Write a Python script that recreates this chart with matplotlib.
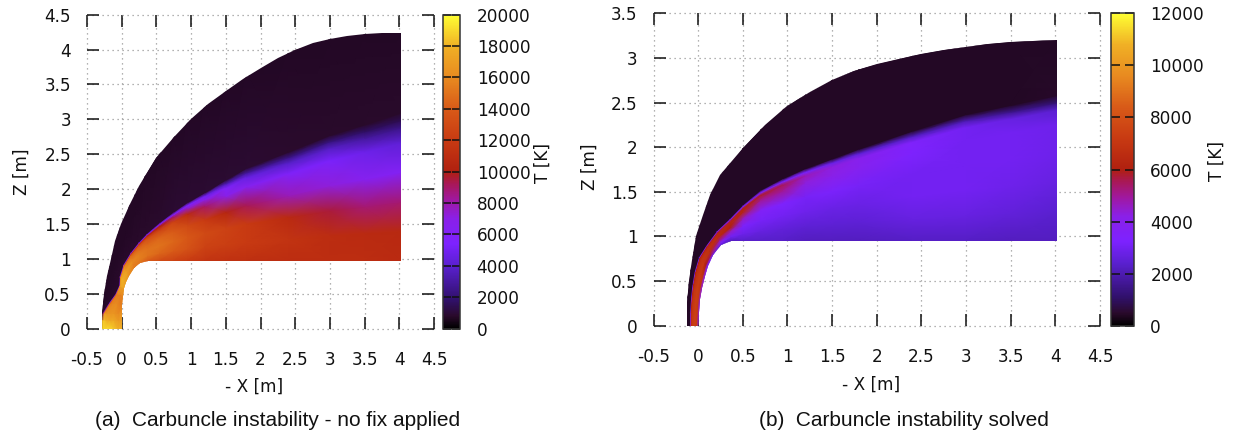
import numpy as np
import matplotlib
matplotlib.use("Agg")
import matplotlib.pyplot as plt
from matplotlib.cm import ScalarMappable
from matplotlib.colors import LinearSegmentedColormap, Normalize
from matplotlib.patches import Polygon

W, H = 1233, 434

# palette
cmap_stops = [0.0, 0.04, 0.09, 0.2, 0.27, 0.35, 0.41, 0.46, 0.5, 0.6, 0.7, 0.8, 0.9, 1.0]
cmap_cols = ['#000000', '#2a0a2c', '#30106a', '#5a20d0', '#7d22ff', '#8a20e8', '#a018a0', '#a81858',
             '#b02010', '#c83a12', '#d85a18', '#e88a20', '#f0b025', '#ffff33']

# fractions between wall and temperature front
row_frac = [0, 0.2, 0.4, 0.6, 0.8, 0.9, 0.95, 1]

# panel a
outline_x_a = [-0.29, -0.29, -0.25, -0.21, -0.16, -0.09, -0.01, 0.12, 0.25, 0.5, 0.75, 1, 1.25, 1.5, 1.75, 2,
               2.25, 2.5, 2.75, 3, 3.25, 3.5, 3.75, 4.02]
outline_z_a = [0, 0.215, 0.5, 0.75, 1, 1.25, 1.5, 1.78, 2.04, 2.44, 2.74, 3.0, 3.22, 3.41, 3.58, 3.74,
               3.875, 4.0, 4.09, 4.158, 4.195, 4.218, 4.232, 4.24]
wall_x_a = [0, 0, 0.005, 0.01, 0.018, 0.04, 0.06, 0.10, 0.18, 0.27, 0.38, 0.55, 0.75, 0.95, 1.2, 1.5, 1.8, 2.4, 3.0, 3.5, 4.02]
wall_z_a = [0, 0.12, 0.22, 0.35, 0.47, 0.58, 0.66, 0.76, 0.87, 0.935, 0.97, 0.97, 0.97, 0.97, 0.97, 0.97, 0.97, 0.97, 0.97, 0.97, 0.97]
outer_x_a = [-0.29, -0.29, -0.29, -0.27, -0.23, -0.19, -0.14, -0.06, 0.06, 0.20, 0.33, 0.55, 0.75, 0.95, 1.2, 1.5, 1.8, 2.4, 3.0, 3.5, 4.02]
outer_z_a = [0, 0.12, 0.22, 0.38, 0.52, 0.68, 0.85, 1.08, 1.38, 1.75, 2.17, 2.53, 2.8, 3.07, 3.27, 3.52, 3.7, 3.97, 4.1, 4.19, 4.23]
front_a = [1.0, 0.98, 0.98, 0.71, 0.47, 0.36, 0.47, 0.5, 0.44, 0.374, 0.33, 0.356, 0.385, 0.40, 0.426, 0.455, 0.487, 0.52, 0.575, 0.606, 0.65]
temp_a = [
    [18000, 18000, 18500, 19000, 19000, 19000, 19000, 19000],
    [17000, 16800, 17500, 17500, 18000, 18500, 18500, 18000],
    [16500, 16000, 16500, 16500, 16500, 16500, 9000, 800],
    [15500, 15500, 16000, 16000, 15500, 14000, 6000, 800],
    [16000, 15500, 15500, 15500, 15500, 14500, 6000, 800],
    [17000, 17500, 17500, 17500, 17000, 16000, 7000, 800],
    [17000, 17500, 18000, 18000, 17000, 15000, 6500, 800],
    [16500, 17000, 17000, 16500, 16000, 14000, 6000, 800],
    [15500, 15500, 16000, 15500, 14500, 12000, 6000, 800],
    [15000, 15500, 15500, 15000, 14000, 11500, 6000, 800],
    [14000, 15000, 15000, 14500, 13500, 11000, 6000, 800],
    [13000, 14500, 15000, 14500, 12500, 10000, 6000, 850],
    [12500, 14000, 14500, 14000, 12500, 9000, 6000, 900],
    [12000, 13500, 13800, 13000, 10800, 7500, 5500, 900],
    [11500, 12500, 13000, 12000, 9000, 6800, 5000, 900],
    [11300, 12300, 12500, 10500, 7000, 5800, 3500, 900],
    [11200, 12000, 12000, 9200, 6500, 4500, 2800, 900],
    [11000, 11500, 10800, 7800, 5800, 3800, 2300, 850],
    [11000, 11000, 9500, 7200, 5300, 3700, 2200, 800],
    [11000, 10800, 8800, 6500, 4800, 2900, 1700, 800],
    [10800, 10700, 8800, 6200, 4200, 2400, 1400, 800],
]
outer_temp_a = 700

# panel b
outline_x_b = [-0.127, -0.12, -0.10, -0.07, -0.02, 0.05, 0.13, 0.25, 0.5, 0.75, 1, 1.25, 1.5, 1.75, 2,
               2.25, 2.5, 2.75, 3, 3.25, 3.5, 3.75, 4.02]
outline_z_b = [0, 0.25, 0.5, 0.735, 1, 1.24, 1.46, 1.69, 1.99, 2.25, 2.46, 2.62, 2.75, 2.85, 2.93,
               2.99, 3.045, 3.09, 3.125, 3.155, 3.18, 3.195, 3.205]
wall_x_b = [0, 0.008, 0.02, 0.04, 0.075, 0.105, 0.165, 0.26, 0.37, 0.5, 0.7, 0.95, 1.2, 1.5, 1.8, 2.4, 3.0, 3.5, 4.02]
wall_z_b = [0, 0.15, 0.3, 0.42, 0.56, 0.67, 0.79, 0.90, 0.95, 0.95, 0.95, 0.95, 0.95, 0.95, 0.95, 0.95, 0.95, 0.95, 0.95]
outer_x_b = [-0.127, -0.125, -0.115, -0.10, -0.08, -0.03, 0.01, 0.12, 0.33, 0.5, 0.7, 0.95, 1.2, 1.5, 1.8, 2.4, 3.0, 3.5, 4.02]
outer_z_b = [0, 0.15, 0.32, 0.46, 0.62, 0.80, 1.01, 1.36, 1.72, 1.98, 2.19, 2.40, 2.6, 2.77, 2.87, 3.02, 3.13, 3.175, 3.205]
front_b = [0.77, 0.78, 0.78, 0.79, 0.77, 0.75, 0.50, 0.36, 0.33, 0.393, 0.46, 0.483, 0.491, 0.505, 0.536, 0.595, 0.65, 0.683, 0.723]
temp_b = [
    [4500, 7200, 7500, 7300, 6800, 6500, 4000, 400],
    [4500, 7200, 7400, 7200, 6800, 6300, 3500, 400],
    [4500, 7200, 7400, 7200, 6800, 6300, 3500, 400],
    [4500, 7000, 7300, 7100, 6700, 6200, 3500, 400],
    [4200, 6800, 7200, 7000, 6600, 6000, 3500, 400],
    [3500, 6000, 7000, 7000, 6600, 5900, 3500, 400],
    [3000, 5500, 6600, 6800, 6500, 5800, 3500, 400],
    [2400, 3500, 5300, 6500, 6500, 5500, 3500, 400],
    [2200, 3000, 4500, 6000, 6300, 5500, 3200, 400],
    [2300, 2900, 3200, 4500, 6300, 6200, 3500, 400],
    [2300, 2700, 3100, 3600, 5000, 5800, 3500, 400],
    [2300, 2600, 3000, 3300, 5000, 5500, 3200, 400],
    [2200, 2500, 2900, 3100, 4300, 4700, 3200, 400],
    [2200, 2500, 2800, 3200, 4200, 4300, 2800, 400],
    [2200, 2500, 2800, 3100, 3900, 4000, 2500, 400],
    [2250, 2700, 3000, 3000, 3300, 3400, 2200, 400],
    [2250, 2700, 3000, 3000, 3000, 3000, 2000, 400],
    [2200, 2600, 2900, 3000, 3000, 2700, 1500, 400],
    [2200, 2400, 2700, 2900, 2900, 2400, 1200, 450],
]
outer_temp_b = 400

x_ticks = [-0.5, 0, 0.5, 1, 1.5, 2, 2.5, 3, 3.5, 4, 4.5]
x_labels = ['-0.5', '0', '0.5', '1', '1.5', '2', '2.5', '3', '3.5', '4', '4.5']
z_ticks_a = [0, 0.5, 1, 1.5, 2, 2.5, 3, 3.5, 4, 4.5]
z_labels_a = ['0', '0.5', '1', '1.5', '2', '2.5', '3', '3.5', '4', '4.5']
z_ticks_b = [0, 0.5, 1, 1.5, 2, 2.5, 3, 3.5]
z_labels_b = ['0', '0.5', '1', '1.5', '2', '2.5', '3', '3.5']
t_ticks_a = [0, 2000, 4000, 6000, 8000, 10000, 12000, 14000, 16000, 18000, 20000]
t_ticks_b = [0, 2000, 4000, 6000, 8000, 10000, 12000]

FS = 12.2
cmap = LinearSegmentedColormap.from_list('carbuncle', list(zip(cmap_stops, cmap_cols)), N=512)


def px_axes(fig, left, top, right, bottom):
    return fig.add_axes([left / W, 1 - bottom / H, (right - left) / W, (bottom - top) / H])


def build_mesh(wall_x, wall_z, outer_x, outer_z, front):
    wall_x, wall_z = np.array(wall_x), np.array(wall_z)
    outer_x, outer_z = np.array(outer_x), np.array(outer_z)
    n = len(front)
    eta = np.outer(np.array(front), np.array(row_frac))
    # one row past the wall and one past the shock, the clip path cuts them back
    eta = np.column_stack([np.full(n, -0.1), eta, np.ones(n), np.full(n, 1.6)])
    mesh_x = wall_x[:, None] + eta * (outer_x - wall_x)[:, None]
    mesh_z = wall_z[:, None] + eta * (outer_z - wall_z)[:, None]
    return mesh_x, mesh_z


def draw_panel(fig, box, cbar_box, mesh, outline, wall, temp, outer_temp, z_ticks, z_labels, t_ticks, tick_len):
    ax = px_axes(fig, *box)
    mesh_x, mesh_z = mesh
    temp = np.array(temp, dtype=float)
    n = len(temp)
    temp = np.column_stack([temp[:, 0], temp, np.full(n, outer_temp), np.full(n, outer_temp)])
    qm = ax.pcolormesh(mesh_x, mesh_z, temp, shading='gouraud', cmap=cmap, vmin=0, vmax=t_ticks[-1])
    pts = list(zip(outline[0], outline[1])) + list(zip(wall[0], wall[1]))[::-1]
    clip = Polygon(pts, closed=True, transform=ax.transData, facecolor='none', edgecolor='none')
    qm.set_clip_path(clip)
    ax.set_xlim(-0.5, 4.5)
    ax.set_ylim(z_ticks[0], z_ticks[-1])
    ax.set_xticks(x_ticks)
    ax.set_xticklabels(x_labels)
    ax.set_yticks(z_ticks)
    ax.set_yticklabels(z_labels)
    ax.tick_params(axis='x', direction='in', length=8.5, width=1.1, top=True, pad=16, labelsize=FS, colors='#111111')
    ax.tick_params(axis='y', direction='in', length=8.5, width=1.1, right=True, pad=11.5, labelsize=FS, colors='#111111')
    for s in ax.spines.values():
        s.set_visible(False)
    ax.grid(True, linestyle=(0, (1, 3)), color='#999999', linewidth=0.9, clip_on=False)
    ax.set_axisbelow(True)

    cax = px_axes(fig, *cbar_box)
    sm = ScalarMappable(Normalize(0, t_ticks[-1]), cmap)
    cb = fig.colorbar(sm, cax=cax)
    cb.set_ticks(t_ticks)
    cb.set_ticklabels([str(t) for t in t_ticks])
    cax.tick_params(axis='y', direction='in', length=tick_len, width=1.1, left=True, right=True, pad=12, labelsize=FS,
                    colors='#111111')
    cb.outline.set_edgecolor('#333333')
    cb.outline.set_linewidth(1.1)
    return ax


def main():
    plt.rcParams['font.family'] = 'DejaVu Sans'
    plt.rcParams['axes.unicode_minus'] = False
    fig = plt.figure(figsize=(W / 100, H / 100), dpi=100)

    mesh_a = build_mesh(wall_x_a, wall_z_a, outer_x_a, outer_z_a, front_a)
    mesh_b = build_mesh(wall_x_b, wall_z_b, outer_x_b, outer_z_b, front_b)
    draw_panel(fig, (87, 14.7, 434, 328.5), (442.7, 14.7, 460, 328.5), mesh_a, (outline_x_a, outline_z_a),
               (wall_x_a, wall_z_a), temp_a, outer_temp_a, z_ticks_a, z_labels_a, t_ticks_a, 5.5)
    draw_panel(fig, (653.5, 13.3, 1100, 325.7), (1110.7, 13.3, 1133.7, 325.7), mesh_b, (outline_x_b, outline_z_b),
               (wall_x_b, wall_z_b), temp_b, outer_temp_b, z_ticks_b, z_labels_b, t_ticks_b, 6.5)

    labels = [(22, 172, 'Z [m]', 90), (254, 387, '- X [m]', 0), (543, 163, 'T [K]', 90),
              (590, 167, 'Z [m]', 90), (871, 385, '- X [m]', 0), (1217, 161, 'T [K]', 90)]
    for x, y, s, rot in labels:
        fig.text(x / W, 1 - y / H, s, fontsize=FS, rotation=rot, ha='center', va='center', color='#111111')

    captions = [(95, '(a)  Carbuncle instability - no fix applied'), (759, '(b)  Carbuncle instability solved')]
    for x, s in captions:
        fig.text(x / W, 1 - 420 / H, s, fontsize=15, family='Liberation Sans', ha='left', va='center', color='#111111')

    fig.savefig('out.png', dpi=100)
    plt.close(fig)


main()
